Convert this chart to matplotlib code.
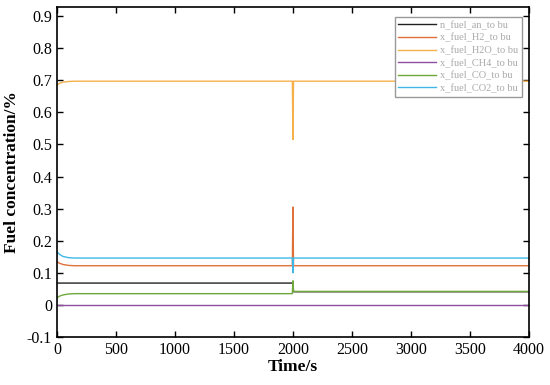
import numpy as np
import matplotlib
matplotlib.use('Agg')
import matplotlib.pyplot as plt
from matplotlib.ticker import MultipleLocator

plt.rcParams['font.family'] = ['Liberation Serif', 'DejaVu Serif']

# time points (s) and concentrations
time = [0, 20, 50, 100, 150, 200, 1995, 2000, 2005, 2020, 4000]
n_fuel_an = [0.068, 0.068, 0.068, 0.068, 0.068, 0.068, 0.068, 0.068, 0.041, 0.041, 0.041]
x_h2 = [0.135, 0.130, 0.126, 0.123, 0.122, 0.122, 0.122, 0.305, 0.122, 0.122, 0.122]
x_h2o = [0.685, 0.690, 0.694, 0.696, 0.697, 0.697, 0.697, 0.515, 0.697, 0.697, 0.697]
x_ch4 = [0.0, 0.0, 0.0, 0.0, 0.0, 0.0, 0.0, 0.0, 0.0, 0.0, 0.0]
x_co = [0.022, 0.027, 0.031, 0.034, 0.035, 0.035, 0.035, 0.075, 0.042, 0.042, 0.042]
x_co2 = [0.166, 0.158, 0.151, 0.147, 0.146, 0.146, 0.146, 0.100, 0.146, 0.146, 0.146]

labels = ['n_fuel_an_to bu', 'x_fuel_H2_to bu', 'x_fuel_H2O_to bu',
          'x_fuel_CH4_to bu', 'x_fuel_CO_to bu', 'x_fuel_CO2_to bu']
colors = ['#222222', '#E0703A', '#F5B04A', '#8E4FA0', '#6FA83A', '#3FB8E8']

fig = plt.figure(figsize=(5.5, 3.85), dpi=100)
ax = fig.add_axes([0.1036, 0.1247, 0.858, 0.857])

series = [n_fuel_an, x_h2, x_h2o, x_ch4, x_co, x_co2]
for s, c, lab in zip(series, colors, labels):
    ax.plot(time, s, color=c, lw=1.0, label=lab)

ax.set_xlim(0, 4000)
ax.set_ylim(-0.1, 0.928)
ax.xaxis.set_major_locator(MultipleLocator(500))
ax.yaxis.set_major_locator(MultipleLocator(0.1))
ax.yaxis.set_major_formatter(plt.FuncFormatter(lambda v, p: '%g' % round(v, 2)))
ax.tick_params(direction='in', top=True, right=True, labelsize=11.5, length=4, width=1)
for sp in ax.spines.values():
    sp.set_linewidth(1.2)

ax.set_xlabel('Time/s', fontsize=12.5, fontweight='bold', labelpad=1)
ax.set_ylabel('Fuel concentration/%', fontsize=12.5, fontweight='bold', labelpad=5)

leg = ax.legend(loc='upper right', fontsize=7.5, fancybox=False, framealpha=1,
                edgecolor='#999999', handlelength=3.6, handletextpad=0.4,
                labelspacing=0.3, borderpad=0.35, borderaxespad=0,
                bbox_to_anchor=(0.985, 0.97))
leg.get_frame().set_linewidth(1.0)
for t in leg.get_texts():
    t.set_color('#aaaaaa')

fig.savefig('out.png', dpi=100)
